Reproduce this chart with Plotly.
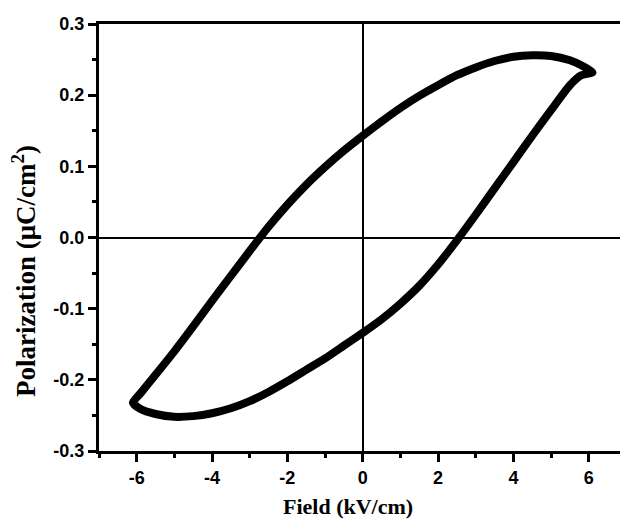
import plotly.graph_objects as go

# Upper branch (field sweeping down from +Emax to -Emax)
field_up = [6.1, 5.8, 5.5, 5.0, 4.5, 4.0, 3.5, 3.0, 2.5, 2.0, 1.5, 1.0, 0.5, 0.0,
            -0.5, -1.0, -1.5, -2.0, -2.5, -3.0, -3.5, -4.0, -4.5, -5.0, -5.5, -5.9, -6.1]
pol_up = [0.232, 0.242, 0.249, 0.255, 0.256, 0.254, 0.248, 0.239, 0.228, 0.214, 0.199, 0.182, 0.163, 0.143,
          0.122, 0.099, 0.074, 0.046, 0.015, -0.019, -0.054, -0.089, -0.125, -0.160, -0.193, -0.219, -0.232]

# Lower branch (field sweeping up from -Emax to +Emax)
field_dn = [-6.1, -5.9, -5.5, -5.0, -4.5, -4.0, -3.5, -3.0, -2.5, -2.0, -1.5, -1.0, -0.5, 0.0,
            0.5, 1.0, 1.5, 2.0, 2.5, 3.0, 3.5, 4.0, 4.5, 5.0, 5.5, 5.8, 6.1]
pol_dn = [-0.232, -0.241, -0.248, -0.252, -0.251, -0.247, -0.240, -0.230, -0.217, -0.202, -0.186, -0.170, -0.152, -0.134,
          -0.115, -0.093, -0.068, -0.038, -0.004, 0.032, 0.069, 0.106, 0.143, 0.179, 0.214, 0.228, 0.232]

x_ticks = [-6, -4, -2, 0, 2, 4, 6]
y_ticks = [-0.3, -0.2, -0.1, 0.0, 0.1, 0.2, 0.3]
y_tick_labels = ["-0.3", "-0.2", "-0.1", "0.0", "0.1", "0.2", "0.3"]

x_title = "Field (kV/cm)"
y_title = "Polarization (μC/cm<sup>2</sup>)"

fig = go.Figure()
fig.add_trace(go.Scatter(
    x=field_up + field_dn[1:], y=pol_up + pol_dn[1:],
    mode="lines", line=dict(color="black", width=8, shape="spline", smoothing=0.6),
    showlegend=False,
))

tick_font = dict(family="Liberation Sans, Arial", size=18, color="black", weight="bold")

fig.update_xaxes(
    range=[-7, 6.83], tickvals=x_ticks, ticktext=[str(v) for v in x_ticks],
    ticks="outside", ticklen=8, tickwidth=3, tickcolor="black",
    minor=dict(dtick=1, ticks="outside", ticklen=4, tickwidth=3, tickcolor="black", showgrid=False),
    showline=True, linewidth=3, linecolor="black", mirror=True,
    showgrid=False, zeroline=True, zerolinecolor="black", zerolinewidth=2,
    tickfont=tick_font,
)
fig.update_yaxes(
    range=[-0.3, 0.3], tickvals=y_ticks, ticktext=y_tick_labels,
    ticks="outside", ticklen=8, tickwidth=3, tickcolor="black",
    minor=dict(dtick=0.05, ticks="outside", ticklen=4, tickwidth=3, tickcolor="black", showgrid=False),
    showline=True, linewidth=3, linecolor="black", mirror=False,
    showgrid=False, zeroline=True, zerolinecolor="black", zerolinewidth=2,
    tickfont=tick_font,
)
fig.add_annotation(
    text=x_title, xref="paper", yref="paper", x=0.478, y=0, xanchor="center", yanchor="middle",
    yshift=-55, showarrow=False, borderpad=0,
    font=dict(family="Liberation Serif, Times New Roman", size=22, color="black", weight="bold"),
)
fig.add_annotation(
    text=y_title, xref="paper", yref="paper", x=0, y=0.4215, xanchor="center", yanchor="middle",
    xshift=-75, textangle=-90, showarrow=False,
    font=dict(family="Liberation Serif, Times New Roman", size=27, color="black", weight="bold"),
)
fig.update_layout(
    width=620, height=521,
    margin=dict(l=99, r=0, t=24, b=70, autoexpand=False),
    paper_bgcolor="white", plot_bgcolor="white",
)
fig.write_html("out.html")
